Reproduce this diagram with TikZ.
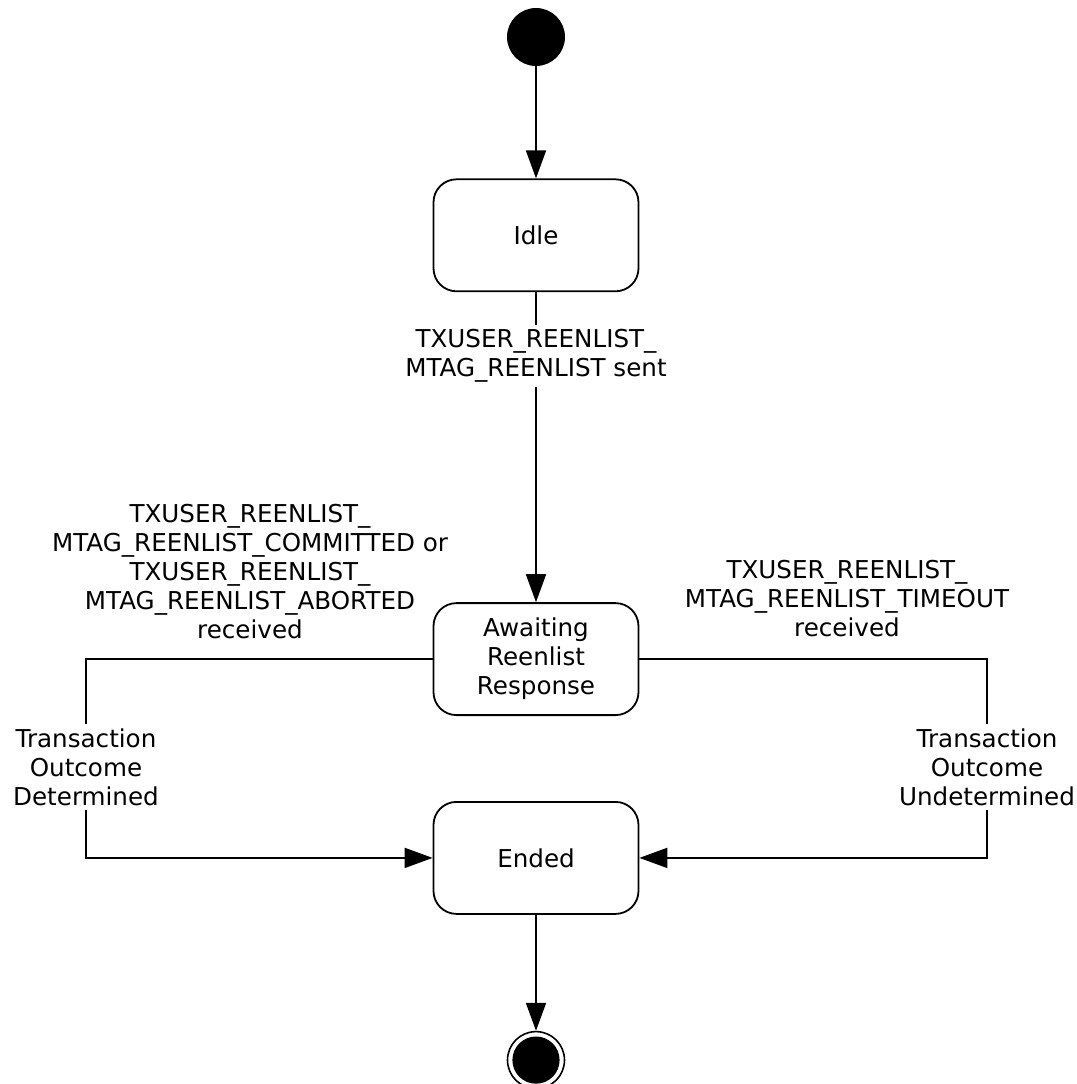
\documentclass[tikz,border=0pt]{standalone}
\usepackage{fontspec}
\setmainfont{DejaVu Sans}
\usetikzlibrary{arrows.meta, positioning}
\tikzset{
  statebox/.style={draw, rounded corners=11.5pt, line width=0.9pt, align=center, minimum height=56pt, minimum width=102.5pt, inner sep=2pt},
  startdot/.style={circle, fill=black, minimum size=29pt, inner sep=0pt},
  enddot/.style={circle, draw, line width=0.8pt, fill=white, minimum size=28.5pt, inner sep=0pt,
    path picture={\fill[black] (path picture bounding box.center) circle (11.8pt);}},
  arrow/.style={-{Triangle[length=14pt, width=10pt]}, line width=0.9pt},
  line/.style={line width=0.9pt},
  note/.style={align=center, fill=white, inner sep=2pt},
  every node/.style={font=\fontsize{12.3}{14.5}\selectfont}
}

\begin{document}
\begin{tikzpicture}[x=0.5pt, y=-0.5pt, node distance=20pt]
    \useasboundingbox (0,0) rectangle (1077,1084);

    \node[startdot] (start) at (536,37) {};
    \node[statebox, below=56pt of start] (idle) {Idle};
    \node[statebox, below=155pt of idle] (await) {Awaiting\\Reenlist\\Response};
    \node[statebox, below=42.5pt of await] (ended) {Ended};
    \node[enddot, below=58pt of ended] (end) {};

    % transition labels
    \node[note] (sent) at (536,356) {TXUSER\_REENLIST\_\\MTAG\_REENLIST sent};
    \node[note, anchor=south, fill=none] (done) at (250,643) {TXUSER\_REENLIST\_\\MTAG\_REENLIST\_COMMITTED or\\TXUSER\_REENLIST\_\\MTAG\_REENLIST\_ABORTED\\received};
    \node[note, anchor=south, fill=none] (tout) at (847,641) {TXUSER\_REENLIST\_\\MTAG\_REENLIST\_TIMEOUT\\received};
    \node[note] (det) at (86,767) {Transaction\\Outcome\\Determined};
    \node[note] (undet) at (987,767) {Transaction\\Outcome\\Undetermined};

    \draw[arrow] (start) -- (idle);
    \draw[line] (idle) -- (sent);
    \draw[arrow] (sent) -- (await);
    \draw[line] (await.west) -| (det);
    \draw[arrow] (det) |- (ended.west);
    \draw[line] (await.east) -| (undet);
    \draw[arrow] (undet) |- (ended.east);
    \draw[arrow] (ended) -- (end);
\end{tikzpicture}
\end{document}
